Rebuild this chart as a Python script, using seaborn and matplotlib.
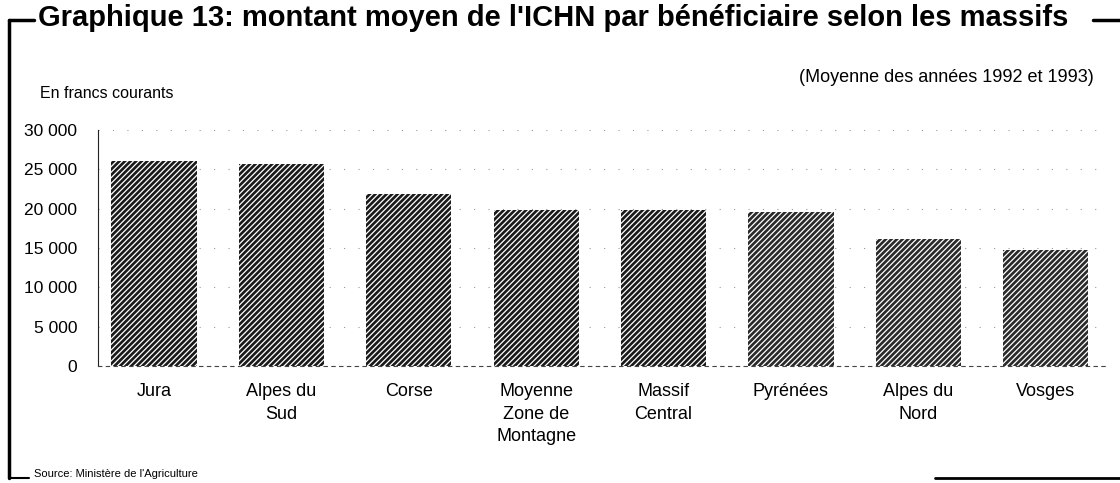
import pandas as pd
import seaborn as sns
import matplotlib.pyplot as plt
from matplotlib.lines import Line2D

# values (francs courants)
massifs = ["Jura", "Alpes du\nSud", "Corse", "Moyenne\nZone de\nMontagne",
           "Massif\nCentral", "Pyrénées", "Alpes du\nNord", "Vosges"]
montant = [26000, 25700, 21800, 19800, 19800, 19600, 16200, 14700]
yticks = [0, 5000, 10000, 15000, 20000, 25000, 30000]
ylabels = ["0", "5 000", "10 000", "15 000", "20 000", "25 000", "30 000"]

sns.set_style("white")
plt.rcParams['font.family'] = ['Liberation Sans', 'DejaVu Sans']
plt.rcParams['hatch.linewidth'] = 0.9
plt.rcParams['text.color'] = 'black'
plt.rcParams['xtick.color'] = 'black'
plt.rcParams['ytick.color'] = 'black'

df = pd.DataFrame({"Massif": massifs, "Montant": montant})

fig = plt.figure(figsize=(11.2, 4.83), dpi=100)
ax = fig.add_axes([0.0875, 0.242, 0.903, 0.489])

sns.barplot(data=df, x="Massif", y="Montant", color="#1a1a1a", width=0.67,
            saturation=1, ax=ax)
for i, p in enumerate(ax.patches):
    p.set_hatch("//////")
    p.set_edgecolor("white")
    p.set_linewidth(0)
    if i >= 5:
        p.set_facecolor("#2a2a2a")

ax.set_xlim(-0.44, 7.5)
ax.set_ylim(0, 30000)
ax.set_yticks(yticks)
ax.set_yticklabels(ylabels, fontsize=12.5)
ax.tick_params(axis="y", length=3, width=0.8, color="#222", pad=12)
ax.tick_params(axis="x", length=0, labelsize=13, pad=12)
for lab in ax.get_xticklabels():
    lab.set_linespacing(1.45)
ax.set_xlabel("")
ax.set_ylabel("")
ax.yaxis.grid(True, color="#999", linestyle=(0, (1, 12)), linewidth=0.8)
ax.set_axisbelow(True)
sns.despine(ax=ax, top=True, right=True)
ax.spines["left"].set_color("#222")
ax.spines["left"].set_linewidth(0.8)
ax.spines["bottom"].set_color("#444")
ax.spines["bottom"].set_linestyle((0, (3, 4)))
ax.spines["bottom"].set_linewidth(0.8)

# titles and notes
fig.text(0.034, 0.962, "Graphique 13: montant moyen de l'ICHN par bénéficiaire selon les massifs",
         fontsize=21, fontweight="bold", va="center", ha="left")
fig.text(0.977, 0.84, "(Moyenne des années 1992 et 1993)", fontsize=13, ha="right", va="center")
fig.text(0.036, 0.807, "En francs courants", fontsize=11.5, ha="left", va="center")
fig.text(0.03, 0.008, "Source: Ministère de l'Agriculture", fontsize=8, ha="left", va="bottom")

# frame bracket around the figure
fig.add_artist(Line2D([0.008, 0.008], [0.01, 0.958], color="black", lw=2.5))
fig.add_artist(Line2D([0.008, 0.03], [0.958, 0.958], color="black", lw=2.5))
fig.add_artist(Line2D([0.008, 0.026], [0.01, 0.01], color="black", lw=1.5))
fig.add_artist(Line2D([0.976, 1.0], [0.958, 0.958], color="black", lw=2.5))
fig.add_artist(Line2D([0.835, 1.0], [0.01, 0.01], color="black", lw=2))

fig.savefig("out.png", dpi=100)
